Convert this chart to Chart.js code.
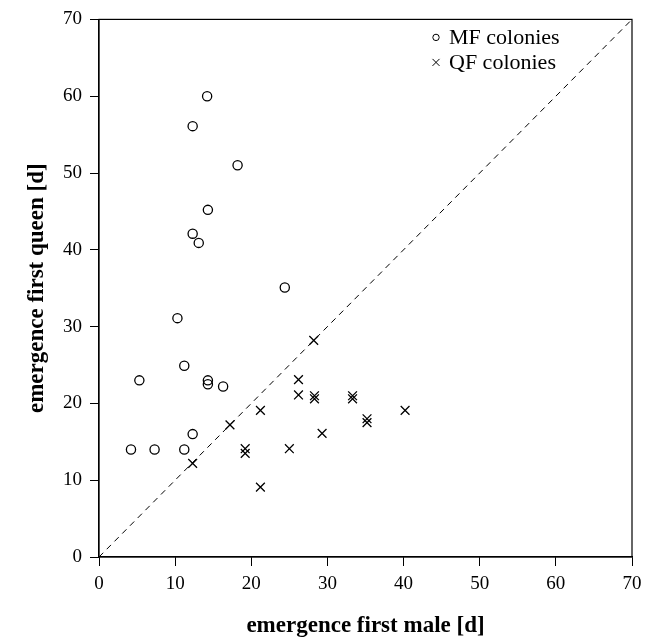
<!DOCTYPE html>
<html>
<head>
<meta charset="utf-8">
<script src="https://cdn.jsdelivr.net/npm/chart.js@4/dist/chart.umd.min.js"></script>
<style>
  html, body { margin: 0; padding: 0; background: #fff; }
  #wrap { width: 658px; height: 641px; position: relative; }
</style>
</head>
<body>
<div id="wrap"><canvas id="chart"></canvas></div>
<script>
// emergence of first male vs first queen (days)
const mfMale  = [14.2, 12.3, 18.2, 14.3, 12.3, 13.1, 24.4, 10.3, 11.2, 5.3, 14.3, 14.3, 16.3, 4.2, 7.3, 11.2, 12.3];
const mfQueen = [60.0, 56.1, 51.0, 45.2, 42.1, 40.9, 35.1, 31.1, 24.9, 23.0, 23.0, 22.5, 22.2, 14.0, 14.0, 14.0, 16.0];
const qfMale  = [28.2, 26.2, 26.2, 28.3, 28.3, 33.3, 33.3, 35.2, 35.2, 40.2, 21.2, 17.2, 29.3, 25.0, 19.2, 19.2, 12.3, 21.2];
const qfQueen = [28.2, 23.1, 21.1, 21.0, 20.6, 21.0, 20.6, 18.0, 17.5, 19.1, 19.1, 17.2, 16.1, 14.1, 14.1, 13.5, 12.2, 9.1];
const axisTicks = [0, 10, 20, 30, 40, 50, 60, 70];
const seriesNames = ['MF colonies', 'QF colonies'];
const xTitle = 'emergence first male [d]';
const yTitle = 'emergence first queen [d]';

const toPoints = (xs, ys) => xs.map((x, i) => ({ x: x, y: ys[i] }));

Chart.defaults.font.family = "'Liberation Serif', 'Times New Roman', serif";
Chart.defaults.color = '#000';

// frame round the plot + legend inside top right
const framePlugin = {
  id: 'frame',
  afterDatasetsDraw(chart) {
    const { ctx, chartArea } = chart;
    ctx.save();
    ctx.strokeStyle = '#000';
    ctx.lineWidth = 1.2;
    ctx.strokeRect(chartArea.left, chartArea.top, chartArea.right - chartArea.left, chartArea.bottom - chartArea.top);

    const lx = chartArea.left + 337;
    let ly = chartArea.top + 18;
    ctx.font = "22px 'Liberation Serif', serif";
    ctx.textBaseline = 'middle';
    ctx.fillStyle = '#000';
    ctx.lineWidth = 1;
    seriesNames.forEach((name, i) => {
      if (i === 0) {
        ctx.beginPath();
        ctx.arc(lx, ly, 3.2, 0, Math.PI * 2);
        ctx.stroke();
      } else {
        ctx.beginPath();
        ctx.moveTo(lx - 3.5, ly - 3.5); ctx.lineTo(lx + 3.5, ly + 3.5);
        ctx.moveTo(lx + 3.5, ly - 3.5); ctx.lineTo(lx - 3.5, ly + 3.5);
        ctx.stroke();
      }
      ctx.fillText(name, lx + 13, ly + 1);
      ly += 25;
    });
    ctx.restore();
  }
};

new Chart(document.getElementById('chart'), {
  type: 'scatter',
  data: {
    datasets: [
      {
        label: 'diagonal',
        type: 'line',
        data: [{ x: 0, y: 0 }, { x: 70, y: 70 }],
        borderColor: '#000',
        borderWidth: 1,
        borderDash: [6, 5],
        pointRadius: 0,
        fill: false
      },
      {
        label: seriesNames[0],
        data: toPoints(mfMale, mfQueen),
        pointStyle: 'circle',
        pointRadius: 4.6,
        borderColor: '#000',
        backgroundColor: 'rgba(0,0,0,0)',
        borderWidth: 1.3
      },
      {
        label: seriesNames[1],
        data: toPoints(qfMale, qfQueen),
        pointStyle: 'crossRot',
        pointRadius: 6.2,
        borderColor: '#000',
        backgroundColor: '#000',
        borderWidth: 1.3
      }
    ]
  },
  options: {
    responsive: true,
    maintainAspectRatio: false,
    animation: false,
    layout: { padding: { top: 16, right: 26, left: 0, bottom: 0 } },
    plugins: {
      legend: { display: false },
      tooltip: { enabled: false }
    },
    scales: {
      x: {
        type: 'linear',
        min: 0,
        max: 70,
        afterFit: s => { s.height = 84; },
        afterBuildTicks: s => { s.ticks = axisTicks.map(v => ({ value: v })); },
        grid: { display: true, drawOnChartArea: false, drawTicks: true, tickLength: 9, color: '#000', lineWidth: 1 },
        border: { display: true, color: '#000', width: 1.2 },
        ticks: { font: { size: 19 }, padding: 7, maxRotation: 0 },
        title: { display: true, text: xTitle, font: { size: 23, weight: 'bold' }, padding: 1 }
      },
      y: {
        type: 'linear',
        min: 0,
        max: 70,
        afterFit: s => { s.width = 99; },
        afterBuildTicks: s => { s.ticks = axisTicks.map(v => ({ value: v })); },
        grid: { display: true, drawOnChartArea: false, drawTicks: true, tickLength: 9, color: '#000', lineWidth: 1 },
        border: { display: true, color: '#000', width: 1.2 },
        ticks: { font: { size: 19 }, padding: 8 },
        title: { display: true, text: yTitle, font: { size: 23, weight: 'bold' }, padding: 23 }
      }
    }
  },
  plugins: [framePlugin]
});
</script>
</body>
</html>
